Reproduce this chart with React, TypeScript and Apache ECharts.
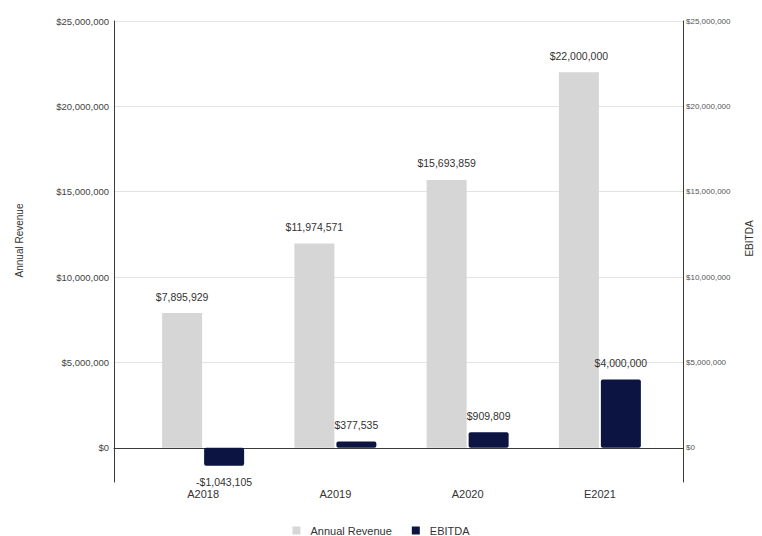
import React, { useEffect, useRef } from "react";
import * as echarts from "echarts";

const categories = ["A2018", "A2019", "A2020", "E2021"];
const revenue = [7895929, 11974571, 15693859, 22000000];
const ebitda = [-1043105, 377535, 909809, 4000000];
const yMin = -2000000;
const yMax = 25000000;
const yStep = 5000000;

const money = (v: number) =>
  (v < 0 ? "-$" : "$") + Math.abs(Math.round(v)).toLocaleString("en-US");

export default function App() {
  const ref = useRef<HTMLDivElement>(null);
  useEffect(() => {
    if (!ref.current) return;
    const chart = echarts.init(ref.current, undefined, { renderer: "svg" });
    const font = "Liberation Sans, Arial, sans-serif";
    const axisLineColor = "#3a3a3a";
    const gridLineColor = "#e3e3e3";
    chart.setOption({
      animation: false,
      textStyle: { fontFamily: font },
      grid: [
        { left: 114, right: 72, top: 21, bottom: 54 },
        { left: 137, right: 96, top: 21, bottom: 54 },
      ],
      legend: {
        data: ["Annual Revenue", "EBITDA"],
        left: "center",
        top: 520,
        icon: "rect",
        itemWidth: 8,
        itemHeight: 8,
        itemGap: 20,
        textStyle: { fontSize: 11, color: "#333", padding: [0, 0, 0, 5] },
      },
      xAxis: [
        {
          type: "category",
          gridIndex: 0,
          data: categories,
          axisLine: { show: true, onZero: true, lineStyle: { color: axisLineColor, width: 1 } },
          axisTick: { show: false },
          axisLabel: { show: false },
          splitLine: { show: false },
        },
        {
          type: "category",
          gridIndex: 1,
          data: categories,
          axisLine: { show: false, onZero: false },
          axisTick: { show: false },
          axisLabel: { fontSize: 11, color: "#333", margin: 6 },
          splitLine: { show: false },
        },
      ],
      yAxis: [
        {
          type: "value",
          gridIndex: 0,
          position: "left",
          min: yMin,
          max: yMax,
          minInterval: yStep,
          maxInterval: yStep,
          name: "Annual Revenue",
          nameLocation: "middle",
          nameRotate: 90,
          nameGap: 90,
          nameTextStyle: { fontSize: 10, color: "#333", padding: [0, 0, 0, 22] },
          axisLine: { show: true, lineStyle: { color: axisLineColor, width: 1 } },
          axisTick: { show: false },
          axisLabel: {
            fontSize: 9.5,
            color: "#444",
            margin: 5,
            showMinLabel: false,
            formatter: (v: number) => (v < 0 ? "" : money(v)),
          },
          splitLine: { show: true, showMinLine: false, lineStyle: { color: gridLineColor, width: 1 } },
        },
        {
          type: "value",
          gridIndex: 0,
          position: "right",
          min: yMin,
          max: yMax,
          minInterval: yStep,
          maxInterval: yStep,
          name: "EBITDA",
          nameLocation: "middle",
          nameRotate: 90,
          nameGap: 61,
          nameTextStyle: { fontSize: 10, color: "#333", padding: [0, 0, 0, 26] },
          axisLine: { show: true, lineStyle: { color: axisLineColor, width: 1 } },
          axisTick: { show: false },
          axisLabel: {
            fontSize: 8,
            color: "#555",
            margin: 3,
            showMinLabel: false,
            formatter: (v: number) => (v < 0 ? "" : money(v)),
          },
          splitLine: { show: false },
        },
        {
          type: "value",
          gridIndex: 1,
          min: yMin,
          max: yMax,
          minInterval: yStep,
          maxInterval: yStep,
          show: false,
          splitLine: { show: false },
        },
      ],
      series: [
        {
          name: "Annual Revenue",
          type: "bar",
          xAxisIndex: 1,
          yAxisIndex: 2,
          barWidth: 40,
          barGap: "5%",
          itemStyle: { color: "#d6d6d6" },
          label: {
            show: true,
            position: "top",
            distance: 11,
            fontSize: 10.5,
            color: "#333",
            formatter: (p: any) => money(p.value),
          },
          data: revenue,
        },
        {
          name: "EBITDA",
          type: "bar",
          xAxisIndex: 1,
          yAxisIndex: 2,
          barWidth: 40,
          itemStyle: { color: "#0c1441", borderRadius: 2 },
          label: {
            show: true,
            position: "top",
            distance: 11,
            fontSize: 10.5,
            color: "#333",
            formatter: (p: any) => money(p.value),
          },
          data: ebitda.map((v) => ({
            value: v,
            label: { position: v < 0 ? "bottom" : "top" },
          })),
        },
      ],
    });
    return () => chart.dispose();
  }, []);
  return (
    <div
      ref={ref}
      style={{ position: "fixed", left: 0, top: 0, width: 762, height: 536, background: "#fff" }}
    />
  );
}
